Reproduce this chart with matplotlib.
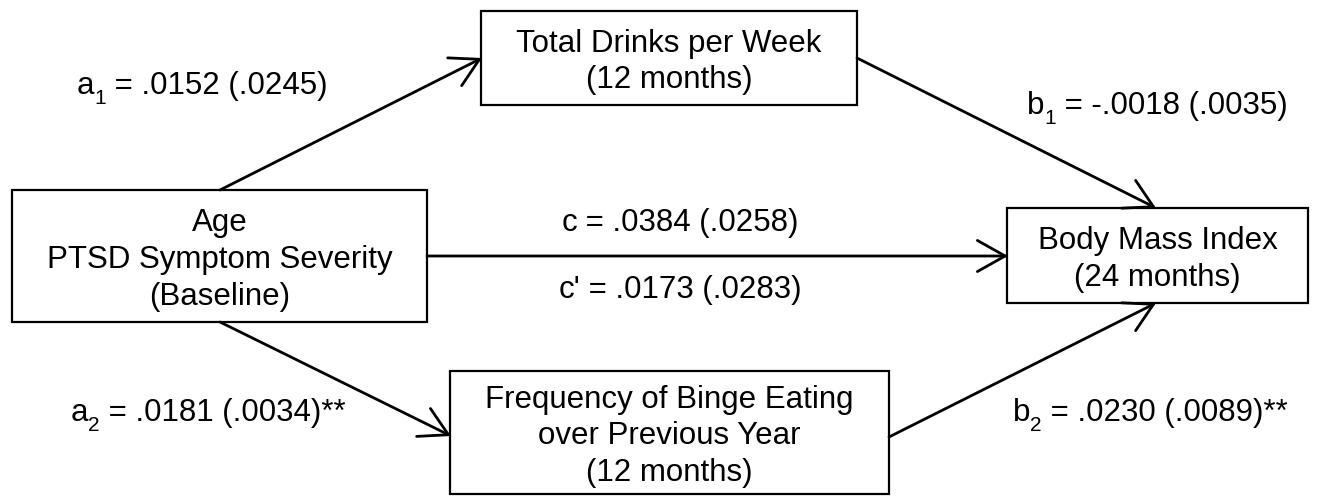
import matplotlib.pyplot as plt
from matplotlib.patches import Rectangle

plt.rcParams['font.family'] = ['Liberation Sans', 'DejaVu Sans']

# node labels
box_labels = ['Age\nPTSD Symptom Severity\n(Baseline)',
              'Total Drinks per Week\n(12 months)',
              'Frequency of Binge Eating\nover Previous Year\n(12 months)',
              'Body Mass Index\n(24 months)']
# path coefficients: letter, subscript, estimate, SE, stars
path_letter = ['a', 'b', 'c', "c'", 'a', 'b']
path_sub = ['1', '1', '', '', '2', '2']
path_est = ['.0152', '-.0018', '.0384', '.0173', '.0181', '.0230']
path_se = ['.0245', '.0035', '.0258', '.0283', '.0034', '.0089']
path_sig = ['', '', '', '', '**', '**']

# layout in pixel units (x0, y0, x1, y1), y downwards
boxes = [(12, 190, 427, 322), (481, 11, 857, 105),
         (450, 371, 889, 494), (1007, 208, 1308, 303)]
arrows = [((220, 190), (482, 58)), ((857, 58), (1156, 208)),
          ((427, 256), (1008, 256)), ((220, 322), (451, 436)),
          ((889, 437), (1156, 303))]
label_pos = [(202, 83), (1157, 103), (680, 220), (680, 287), (208, 410), (1150, 410)]

fig = plt.figure(figsize=(13.18, 5), dpi=100)
ax = fig.add_axes([0, 0, 1, 1])
ax.set_xlim(0, 1318)
ax.set_ylim(500, 0)
ax.axis('off')

fs = 22.5
sub_fs = 15
for (x0, y0, x1, y1), lab in zip(boxes, box_labels):
    ax.add_patch(Rectangle((x0, y0), x1 - x0, y1 - y0, fill=False,
                           edgecolor='black', lw=1.6))
    ax.text((x0 + x1) / 2, (y0 + y1) / 2 + 4, lab, ha='center', va='center',
            fontsize=fs, linespacing=1.3, multialignment='center')

for (p0, p1) in arrows:
    ax.annotate('', xy=p1, xytext=p0,
                arrowprops=dict(arrowstyle='->,head_length=0.5,head_width=0.28',
                                lw=2.0, color='black', mutation_scale=40,
                                shrinkA=0, shrinkB=0))

renderer = fig.canvas.get_renderer()


def width(t):
    return t.get_window_extent(renderer).width


for let, sub, est, se, sig, (x, y) in zip(path_letter, path_sub, path_est,
                                          path_se, path_sig, label_pos):
    rest = f' = {est} ({se}){sig}'
    t1 = ax.text(0, y, let, ha='left', va='baseline', fontsize=fs)
    t2 = ax.text(0, y, sub, ha='left', va='baseline', fontsize=sub_fs)
    t3 = ax.text(0, y, rest, ha='left', va='baseline', fontsize=fs)
    w1, w2, w3 = width(t1), (width(t2) if sub else 0), width(t3)
    x0 = x - (w1 + w2 + w3) / 2
    base = y + 11
    t1.set_position((x0, base))
    t2.set_position((x0 + w1, base + 10))
    t3.set_position((x0 + w1 + w2, base))

fig.savefig('out.png', dpi=100)
